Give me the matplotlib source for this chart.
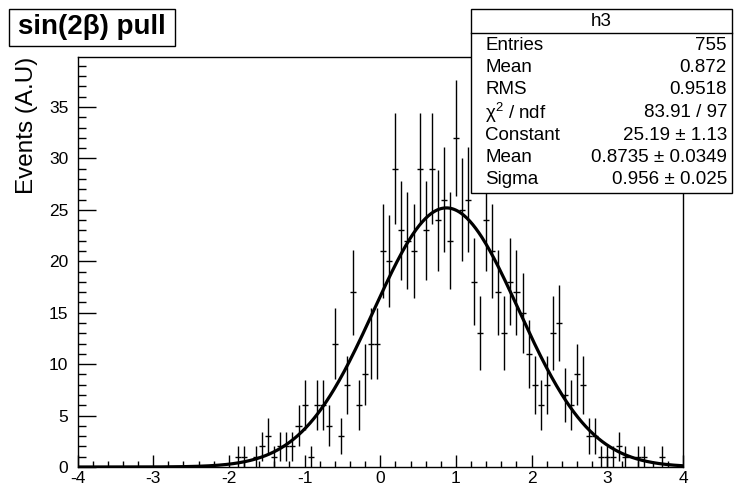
import numpy as np
import matplotlib
matplotlib.use("Agg")
import matplotlib.pyplot as plt
from matplotlib.patches import Rectangle
from matplotlib.ticker import MultipleLocator

plt.rcParams['font.family'] = ['Liberation Sans', 'DejaVu Sans']
plt.rcParams['mathtext.fontset'] = 'custom'
plt.rcParams['mathtext.rm'] = 'Liberation Sans'
plt.rcParams['mathtext.it'] = 'Liberation Sans'
plt.rcParams['axes.unicode_minus'] = False

# histogram h3: 100 bins in [-4, 4]
bin_lo, bin_hi, n_bins = -4.0, 4.0, 100
counts = [
    0, 0, 0, 0, 0, 0, 0, 0, 0, 0,
    0, 0, 0, 0, 0, 0, 0, 0, 0, 0,
    0, 0, 0, 0, 0, 0, 1, 1, 0, 1,
    2, 3, 1, 2, 2, 2, 4, 6, 1, 6,
    6, 4, 12, 3, 8, 17, 6, 9, 12, 12,
    21, 20, 29, 23, 22, 21, 29, 23, 29, 24,
    26, 22, 32, 25, 26, 18, 13, 24, 21, 17,
    13, 18, 17, 15, 11, 8, 6, 8, 13, 14,
    7, 6, 9, 8, 3, 3, 1, 1, 1, 2,
    1, 0, 1, 1, 0, 0, 1, 0, 0, 0,
]

# gaussian fit parameters
fit_const, fit_mean, fit_sigma = 25.19, 0.8735, 0.956

stat_labels = ["Entries", "Mean", "RMS", r"χ$^{2}$ / ndf", "Constant", "Mean", "Sigma"]
stat_values = ["755", "0.872", "0.9518", "83.91 / 97",
               "25.19 ± 1.13", "0.8735 ± 0.0349", "0.956 ± 0.025"]

W, H = 734, 492
fig = plt.figure(figsize=(W / 100, H / 100), dpi=100)


def fx(px):
    return px / W


def fy(py):
    return 1 - py / H


ax = fig.add_axes([fx(77.5), fy(467), fx(683) - fx(77.5), fy(57) - fy(467)])

edges = np.linspace(bin_lo, bin_hi, n_bins + 1)
centers = 0.5 * (edges[:-1] + edges[1:])
half_w = 0.5 * (edges[1] - edges[0])
c = np.array(counts, dtype=float)
nz = c > 0

ax.errorbar(centers[nz], c[nz], yerr=np.sqrt(c[nz]), xerr=half_w,
            fmt='none', ecolor='black', elinewidth=1.0, capsize=0)

xs = np.linspace(bin_lo, bin_hi, 600)
ax.plot(xs, fit_const * np.exp(-0.5 * ((xs - fit_mean) / fit_sigma) ** 2),
        color='black', lw=2.3)

ax.set_xlim(bin_lo, bin_hi)
ax.set_ylim(0, 39.86)
ax.xaxis.set_major_locator(MultipleLocator(1))
ax.xaxis.set_minor_locator(MultipleLocator(0.2))
ax.yaxis.set_major_locator(MultipleLocator(5))
ax.yaxis.set_minor_locator(MultipleLocator(1))
ax.tick_params(axis='x', which='major', direction='in', length=8.5, width=1,
               labelsize=12.5, pad=3, top=False)
ax.tick_params(axis='x', which='minor', direction='in', length=4.5, width=1, top=False)
ax.tick_params(axis='y', which='major', direction='in', length=13, width=1,
               labelsize=12.5, pad=6.5, right=False)
ax.tick_params(axis='y', which='minor', direction='in', length=6, width=1, right=False)
for s in ax.spines.values():
    s.set_linewidth(1.0)

fig.text(fx(27), fy(57), "Events (A.U)", rotation=90, ha='center', va='top', fontsize=17.5)

# title box
fig.patches.append(Rectangle((fx(9), fy(46)), fx(175) - fx(9), fy(9) - fy(46),
                             transform=fig.transFigure, facecolor='white',
                             edgecolor='black', lw=1.0, zorder=5))
fig.text(fx(92), fy(27.5), "sin(2β) pull", ha='center', va='center',
         fontsize=20, fontweight='bold', zorder=6)

# stat box
fig.patches.append(Rectangle((fx(471), fy(193)), fx(732) - fx(471), fy(9) - fy(193),
                             transform=fig.transFigure, facecolor='white',
                             edgecolor='black', lw=1.0, zorder=5))
fig.add_artist(plt.Line2D([fx(471), fx(732)], [fy(33), fy(33)],
                          transform=fig.transFigure, color='black', lw=1.0, zorder=6))
fig.text(fx(601.5), fy(21.5), "h3", ha='center', va='center', fontsize=13.5, zorder=6)
for i, (lab, val) in enumerate(zip(stat_labels, stat_values)):
    yy = fy(45 + 22.5 * i)
    fig.text(fx(485), yy, lab, ha='left', va='center', fontsize=13.5, zorder=6)
    fig.text(fx(727), yy, val, ha='right', va='center', fontsize=13.5, zorder=6)

fig.savefig("out.png", dpi=100)
